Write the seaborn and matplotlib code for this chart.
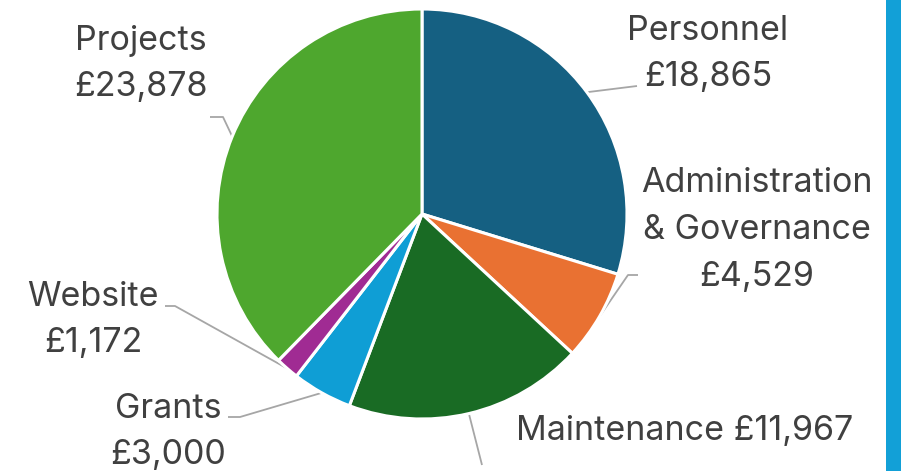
import numpy as np
import matplotlib
matplotlib.use("Agg")
import matplotlib.pyplot as plt
import seaborn as sns
from matplotlib.patches import Rectangle

sns.set_theme(style="white")
plt.rcParams['font.family'] = ['Inter', 'DejaVu Sans']

categories = ["Personnel", "Administration\n& Governance", "Maintenance", "Grants", "Website", "Projects"]
values = [18865, 4529, 11967, 3000, 1172, 23878]
colors = ["#156082", "#E97132", "#196B24", "#0F9ED5", "#A02B93", "#4EA72E"]

W, H = 902, 471
fig = plt.figure(figsize=(W / 100, H / 100), dpi=100)
ax = fig.add_axes([0, 0, 1, 1])
ax.set_xlim(0, W)
ax.set_ylim(H, 0)
ax.set_aspect("equal")
ax.axis("off")

cx, cy, r = 422, 214, 205
wedges, _ = ax.pie(values, colors=colors, startangle=-90, counterclock=True,
                   center=(cx, cy), radius=r, frame=True,
                   wedgeprops=dict(edgecolor="white", linewidth=2.2))
ax.set_xlim(0, W)
ax.set_ylim(H, 0)
ax.axis("off")

# label layout (pixel positions)
label_pos = [(708, 54, "center"), (757, 230, "center"), (685, 431, "center"),
             (168, 432, "center"), (93, 320, "center"), (141, 64, "center")]
leaders = [[(637, 86)],
           [(628, 275), (638, 275)],
           [(482, 465)],
           [(240, 417), (228, 417)],
           [(175, 306), (165, 306)],
           [(223, 117), (210, 117)]]

total = sum(values)
ang = 90.0
for i, (cat, v) in enumerate(zip(categories, values)):
    span = 360.0 * v / total
    mid = np.deg2rad(ang - span / 2)
    ang -= span
    ex, ey = cx + r * np.cos(mid), cy - r * np.sin(mid)
    pts = [(ex, ey)] + leaders[i]
    xs, ys = zip(*pts)
    ax.plot(xs, ys, color="#A6A6A6", lw=1.3, zorder=0.5, solid_capstyle="butt")
    x, y, ha = label_pos[i]
    sep = " " if cat == "Maintenance" else "\n"
    ax.text(x, y, f"{cat}{sep}£{v:,}", ha=ha, va="center", fontsize=24.5,
            color="#404040", linespacing=1.58, multialignment="center")

fig.patches.append(Rectangle((886 / W, 0), 15 / W, 1, transform=fig.transFigure,
                             facecolor="#12A0D7", edgecolor="none"))

fig.savefig("out.png", dpi=100)
